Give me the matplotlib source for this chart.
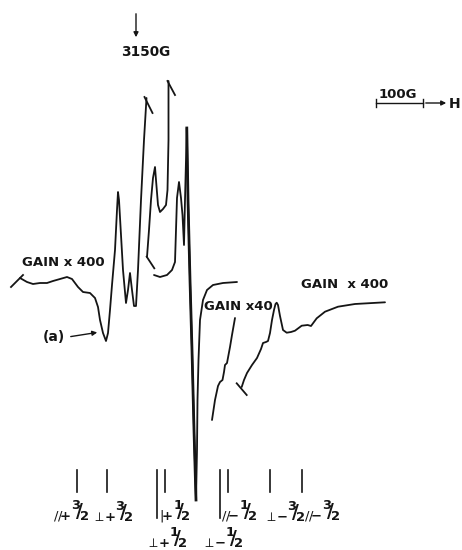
import matplotlib
matplotlib.use("Agg")
import matplotlib.pyplot as plt

plt.rcParams['font.family'] = ['DejaVu Sans']
plt.rcParams['mathtext.fontset'] = 'dejavusans'
plt.rcParams['mathtext.default'] = 'regular'

# Recorder trace segments (chart position, pen position; pen grows downward)
# Low-field wing recorded at gain x400, running up into the first off-scale line
wing_lo_x = [20, 27, 33, 40, 47, 53, 60, 67, 72, 78, 83, 90, 95, 98, 100, 103, 106,
             108, 110, 112, 115, 117, 118, 119, 121, 123, 126, 128, 130, 132, 134,
             136, 138, 141, 144, 146.5]
wing_lo_y = [278, 282, 284, 283, 283, 281, 279, 277, 279, 287, 292, 293, 298, 307, 320, 333, 341,
             333, 310, 285, 250, 210, 192, 200, 235, 270, 303, 290, 273, 290, 306,
             306, 270, 200, 140, 98]

# Second pass through the perpendicular lines, ending off-scale
mid_a_x = [147, 149, 151, 153, 155, 156, 158, 160, 163, 166, 167.5, 168.5, 168.5]
mid_a_y = [257, 230, 200, 178, 167, 180, 205, 212, 209, 205, 190, 140, 81]

# Central section: parallel line, the large negative excursion and recovery
centre_x = [154, 160, 167, 172, 175, 176, 177, 179, 181, 182.5, 184, 185, 186, 186.8,
            188, 190, 192, 194, 196, 197, 197.5, 198.5, 200, 203, 207, 213, 223, 237]
centre_y = [275, 277, 275, 270, 262, 230, 198, 182, 198, 215, 245, 200, 160, 128,
            200, 280, 350, 430, 500, 450, 400, 360, 320, 300, 290, 285, 283, 282]

# High-field section at gain x40
gain40_x = [235, 232, 230, 227, 225, 224, 222.5, 220, 218, 215, 212]
gain40_y = [318, 335, 347, 363, 365, 372, 380, 382, 386, 400, 420]

# High-field wing at gain x400
wing_hi_x = [241.7, 244, 247, 252, 257, 261, 263, 266, 268, 270, 272, 274, 275.5, 276.7,
             278, 280, 283, 286.7, 291, 295, 301.7, 307.7, 311, 316.7, 325, 338, 355, 385]
wing_hi_y = [387, 380, 373, 365, 358, 349, 343, 342, 341, 333, 320, 310, 304, 302.7,
             305, 316, 330, 332.7, 332, 330.7, 325.7, 325, 326, 318.3, 311.7, 306.7, 304, 302.3]

# Pen start / stop marks
pen_marks = [((11, 23), (287, 275)), ((144.5, 152.5), (97, 113)), ((167.5, 175), (81, 95)),
             ((146.7, 154.3), (256.7, 268.3)), ((236.7, 246.7), (383.3, 395))]

# Hyperfine stick positions
stick_x = [76.7, 106.7, 156.7, 165, 220, 227.7, 270, 301.7]
stick_long = [False, False, True, False, True, False, False, False]

# Stick labels: (left x, row, orientation, sign, m_I numerator)
stick_labels = [(53, 0, 'par', '+', '3'),
                (92, 0, 'perp', '+', '3'),
                (159, 0, 'bar', '+', '1'),
                (221, 0, 'par', '-', '1'),
                (264, 0, 'perp', '-', '3'),
                (304, 0, 'par', '-', '3'),
                (146, 1, 'perp', '+', '1'),
                (202, 1, 'perp', '-', '1')]

sym_tex = {'par': r'//', 'perp': r'\perp', 'bar': r'|'}


def stick_label(orient, sign, num):
    return ('$' + '{}_{' + sym_tex[orient] + '}' + r'\!{}_{\mathbf{' + sign + '}}'
            + r'{}^{\mathbf{' + num + r'}}\!\!\mathbf{/}\!{}_{\mathbf{2}}$')


fig = plt.figure(figsize=(4.62, 5.5), dpi=100)
ax = fig.add_axes([0, 0, 1, 1])
ax.set_xlim(0, 462)
ax.set_ylim(550, 0)
ax.axis('off')

ink = '#151515'
lw = 1.3
for xs, ys in [(wing_lo_x, wing_lo_y), (mid_a_x, mid_a_y), (centre_x, centre_y),
               (gain40_x, gain40_y), (wing_hi_x, wing_hi_y)]:
    ax.plot(xs, ys, color=ink, lw=lw, solid_joinstyle='round', solid_capstyle='round')
for xs, ys in pen_marks:
    ax.plot(xs, ys, color=ink, lw=lw)
# heavier stroke on the steep central descent
ax.plot(centre_x[13:19], centre_y[13:19], color=ink, lw=2.0)

# Reference field marker
ax.annotate('', xy=(136, 40), xytext=(136, 11),
            arrowprops=dict(arrowstyle='-|>', color=ink, lw=1.0, mutation_scale=7))
ax.text(146, 52.5, '3150G', ha='center', va='center', fontsize=9.8, fontweight='bold', color=ink)

# Field scale bar
ax.plot([376, 423], [103, 103], color=ink, lw=1.0)
ax.plot([376, 376], [99, 107], color=ink, lw=1.0)
ax.plot([423, 423], [99, 107], color=ink, lw=1.0)
ax.annotate('', xy=(449, 103), xytext=(423, 103),
            arrowprops=dict(arrowstyle='-|>', color=ink, lw=1.0, mutation_scale=7))
ax.text(398, 95, '100G', ha='center', va='center', fontsize=9.5, fontweight='bold', color=ink)
ax.text(455, 104, 'H', ha='center', va='center', fontsize=10, fontweight='bold', color=ink)

# Gain annotations
ax.text(63, 262, 'GAIN x 400', ha='center', va='center', fontsize=9.5, fontweight='bold', color=ink)
ax.text(238, 307, 'GAIN x40', ha='center', va='center', fontsize=9.5, fontweight='bold', color=ink)
ax.text(345, 285, 'GAIN  x 400', ha='center', va='center', fontsize=9.5, fontweight='bold', color=ink)

ax.text(54, 337, '(a)', ha='center', va='center', fontsize=10, fontweight='bold', color=ink)
ax.annotate('', xy=(100, 332), xytext=(68, 337),
            arrowprops=dict(arrowstyle='-|>', color=ink, lw=1.0, mutation_scale=7))

# Stick diagram
for x, long in zip(stick_x, stick_long):
    ax.plot([x, x], [470, 518 if long else 492], color=ink, lw=1.2)
for x0, row, orient, sign, num in stick_labels:
    ax.text(x0, 512 + 26 * row, stick_label(orient, sign, num), ha='left', va='center',
            fontsize=13.5, color=ink)

fig.savefig('out.png', dpi=100)
